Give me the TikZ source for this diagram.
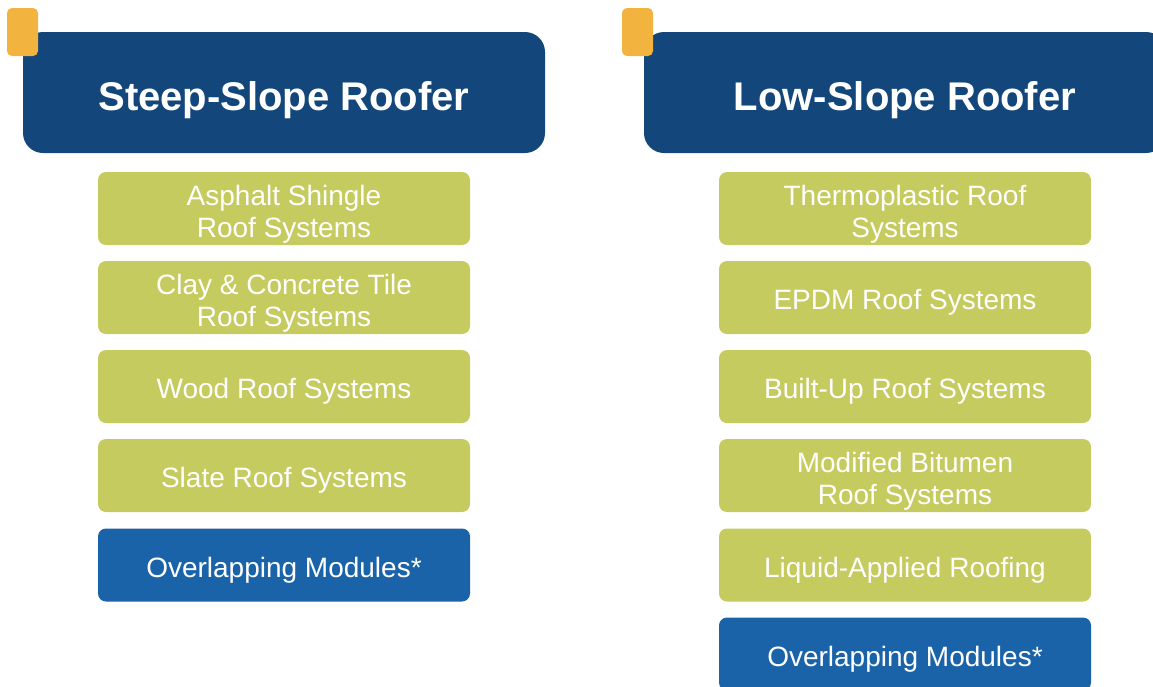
\documentclass[tikz,border=0pt]{standalone}
\usepackage{fontspec}
\setmainfont{Liberation Sans}
\definecolor{roofnavy}{HTML}{13467A}
\definecolor{roofyellow}{HTML}{F2B43E}
\definecolor{roofgreen}{HTML}{C5CB5F}
\definecolor{roofblue}{HTML}{1B63A8}
\tikzset{
  header/.style={fill=roofnavy, rounded corners=20pt, minimum width=522pt, minimum height=121pt,
    text=white, text height=35pt, text depth=0pt, font=\bfseries\fontsize{40}{48}\selectfont},
  tab/.style={fill=roofyellow, rounded corners=5pt, minimum width=31pt, minimum height=48pt},
  system/.style={fill=roofgreen, rounded corners=8pt, minimum width=372pt, minimum height=73pt,
    text=white, align=center, text height=24pt, text depth=0pt, font=\fontsize{28}{32}\selectfont},
  twoline/.style={system, text height=57pt},
  module/.style={system, fill=roofblue}
}
\begin{document}
\begin{tikzpicture}[x=1pt, y=-1pt]
\useasboundingbox (0,0) rectangle (1153,686);
\clip (0,0) rectangle (1153,686);
% Headers
\node[header] (steep) at (284,92.5) {Steep-Slope Roofer};
\node[tab] (steeptab) at (22.5,32) {};
\node[header] (low) at (905,92.5) {Low-Slope Roofer};
\node[tab] (lowtab) at (637.5,32) {};
% Steep-slope systems
\node[twoline] (asphalt) at (284,208.5) {Asphalt Shingle\\Roof Systems};
\node[twoline] (tile) at (284,297.5) {Clay \& Concrete Tile\\Roof Systems};
\node[system] (wood) at (284,386.5) {Wood Roof Systems};
\node[system] (slate) at (284,475.5) {Slate Roof Systems};
\node[module] (steepmod) at (284,565) {Overlapping Modules*};
% Low-slope systems
\node[twoline] (thermo) at (905,208.5) {Thermoplastic Roof\\Systems};
\node[system] (epdm) at (905,297.5) {EPDM Roof Systems};
\node[system] (builtup) at (905,386.5) {Built-Up Roof Systems};
\node[twoline] (modbit) at (905,475.5) {Modified Bitumen\\Roof Systems};
\node[system] (liquid) at (905,565) {Liquid-Applied Roofing};
\node[module] (lowmod) at (905,654) {Overlapping Modules*};
\end{tikzpicture}
\end{document}
